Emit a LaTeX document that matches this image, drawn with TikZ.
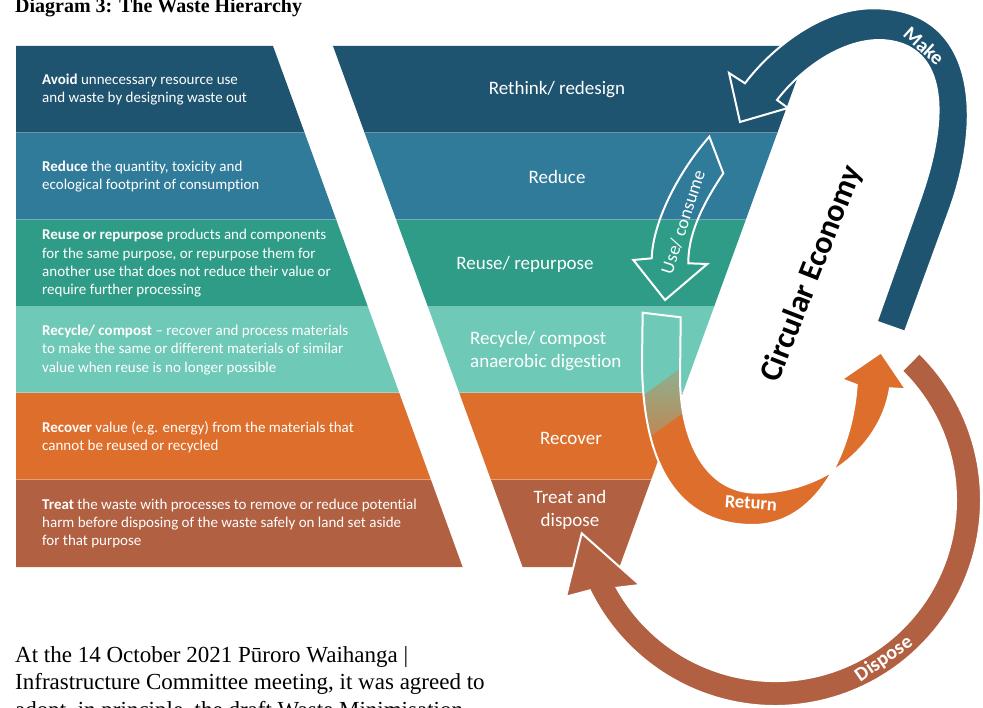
\documentclass[tikz,border=0pt]{standalone}
\usepackage{fontspec}
\setmainfont{Carlito}[Ligatures=NoCommon]
\newfontfamily\bodyserif{Liberation Serif}

\definecolor{bandA}{HTML}{1F5470}
\definecolor{bandB}{HTML}{317B9A}
\definecolor{bandC}{HTML}{2E9C87}
\definecolor{bandD}{HTML}{6FC9B7}
\definecolor{bandE}{HTML}{DE6E2C}
\definecolor{bandF}{HTML}{B16042}

% outlines of the three circular-economy arrows
\newcommand\makeoutline{(905,331.7) -- (948.3,213.3) .. controls (985,115) and (975,8) .. (873.3,8.3)
  .. controls (820,8) and (770,50) .. (745,83.3) -- (729,73) -- (740,122) -- (788,108) -- (777,100)
  .. controls (800,70) and (840,40) .. (880,40) .. controls (945,42) and (952,110) .. (920,200)
  -- (876.7,321.7) -- cycle}
\newcommand\returnoutline{(642.7,312.7) -- (642,360) .. controls (642,475) and (685,525) .. (753,525)
  .. controls (815,525) and (852,455) .. (856.7,385) -- (841.7,379.3) -- (881,352.3) -- (906,389.3)
  -- (890,388.3) .. controls (880,450) and (820,492.7) .. (757,492.7)
  .. controls (705,492.7) and (681,440) .. (680,380) -- (680.7,317.3) -- cycle}
\newcommand\disposeoutline{(919.4,353.1) arc[start angle=-45.5, end angle=154, radius=206]
  -- (566,596.7) -- (581.7,533.3) -- (640,585) -- (616.7,587.8)
  arc[start angle=151, end angle=-45.5, radius=181] -- cycle}

\begin{document}
\begin{tikzpicture}[x=1pt,y=-1pt,
  lefttext/.style={anchor=west, align=left, text=white, inner sep=0pt,
    font=\fontsize{15}{18.3}\selectfont},
  bandlabel/.style={align=center, text=white, inner sep=0pt,
    font=\fontsize{19}{22.5}\selectfont},
  seam/.style={white, opacity=0.35, line width=1},
  arrowout/.style={draw=white, line width=2, line join=miter},
  arrowlabel/.style={text=white, inner sep=0pt, font=\fontsize{20}{24}\selectfont\bfseries}]

\clip (0,0) rectangle (983,708);
\fill[white] (0,0) rectangle (983,708);

% left panel rows
\fill[bandA] (16,46) -- (273,46) -- (304.7,133) -- (16,133) -- cycle;
\fill[bandB] (16,133) -- (304.7,133) -- (336.3,220) -- (16,220) -- cycle;
\fill[bandC] (16,220) -- (336.3,220) -- (368,307) -- (16,307) -- cycle;
\fill[bandD] (16,307) -- (368,307) -- (399.3,393) -- (16,393) -- cycle;
\fill[bandE] (16,393) -- (399.3,393) -- (431,480) -- (16,480) -- cycle;
\fill[bandF] (16,480) -- (431,480) -- (462.6,567) -- (16,567) -- cycle;

% funnel rows
\fill[bandA] (333,46) -- (809,46) -- (777.3,133) -- (364.7,133) -- cycle;
\fill[bandB] (364.7,133) -- (777.3,133) -- (745.7,220) -- (396.3,220) -- cycle;
\fill[bandC] (396.3,220) -- (745.7,220) -- (714,307) -- (428,307) -- cycle;
\fill[bandD] (428,307) -- (714,307) -- (682.7,393) -- (459.3,393) -- cycle;
\fill[bandE] (459.3,393) -- (682.7,393) -- (651,480) -- (491,480) -- cycle;
\fill[bandF] (491,480) -- (651,480) -- (619.4,567) -- (522.6,567) -- cycle;

% seams between rows
\foreach \yy/\lx/\fl/\fr in {133/304.7/364.7/777.3, 220/336.3/396.3/745.7, 307/368/428/714,
                            393/399.3/459.3/682.7, 480/431/491/651}
  {\draw[seam] (16,\yy) -- (\lx,\yy); \draw[seam] (\fl,\yy) -- (\fr,\yy);}

% descriptions
\node[lefttext] (avoid) at (42,89.5) {\textbf{Avoid} unnecessary resource use\\and waste by designing waste out};
\node[lefttext] (reduce) at (42,176.5) {\textbf{Reduce} the quantity, toxicity and\\ecological footprint of consumption};
\node[lefttext] (reuse) at (42,263.5) {\textbf{Reuse or repurpose} products and components\\for the same purpose, or repurpose them for\\another use that does not reduce their value or\\require further processing};
\node[lefttext] (recycle) at (42,350) {\textbf{Recycle/ compost} – recover and process materials\\to make the same or different materials of similar\\value when reuse is no longer possible};
\node[lefttext] (recover) at (42,437) {\textbf{Recover} value (e.g. energy) from the materials that\\cannot be reused or recycled};
\node[lefttext] (treat) at (42,523.5) {\textbf{Treat} the waste with processes to remove or reduce potential\\harm before disposing of the waste safely on land set aside\\for that purpose};

% funnel labels
\node[bandlabel] (lRethink) at (557,90) {Rethink/ redesign};
\node[bandlabel] (lReduce) at (557,177) {Reduce};
\node[bandlabel] (lReuse) at (525,264) {Reuse/ repurpose};
\node[bandlabel, anchor=west, align=left] (lRecycle) at (470,351) {Recycle/ compost\\anaerobic digestion};
\node[bandlabel] (lRecover) at (571,438) {Recover};
\node[bandlabel] (lTreat) at (570,510) {Treat and\\dispose};

% use / consume arrow (outline only)
\draw[arrowout] (709.3,136.7) -- (723.3,173.3) .. controls (702,205) and (688,235) .. (688.3,263.3)
  -- (707.3,264) -- (665,300) -- (633.3,260) -- (651.7,258.3)
  .. controls (653,220) and (680,170) .. (709.3,136.7) -- cycle;
\node[text=white, inner sep=0pt, rotate=72, font=\fontsize{18.5}{22}\selectfont] (use) at (683,222) {Use/ consume};

% return arrow with its teal-to-orange tail
\fill[bandE] \returnoutline;
\begin{scope}
  \clip \returnoutline;
  \begin{scope}[rotate around={36:(665,405)}]
    \fill[bandD] (560,200) rectangle (770,385);
    \shade[top color=bandD, bottom color=bandE] (560,384.5) rectangle (770,422);
  \end{scope}
\end{scope}
\draw[arrowout] \returnoutline;

% make arrow
\fill[bandA] \makeoutline;
\draw[arrowout] \makeoutline;

% dispose arrow
\fill[bandF] \disposeoutline;
\draw[arrowout] \disposeoutline;

% arrow labels
\node[arrowlabel, rotate=-42] (make) at (924,46) {Make};
\node[arrowlabel, rotate=-4, font=\fontsize{18.5}{22}\selectfont\bfseries] (return) at (751,503) {Return};
\node[arrowlabel, rotate=35] (dispose) at (884,659) {Dispose};
\node[inner sep=0pt, rotate=68.6, font=\fontsize{32}{38}\selectfont\bfseries] (ce) at (812,274) {Circular Economy};

% heading and body text
\node[anchor=base west, inner sep=0pt, font=\bodyserif\bfseries\fontsize{20}{24}\selectfont] (title) at (15,13) {Diagram 3: The Waste Hierarchy};
\node[anchor=north west, inner sep=0pt, align=left, font=\bodyserif\fontsize{23}{27.5}\selectfont] (para) at (15,646)
  {At the 14 October 2021 Pūroro Waihanga |\\Infrastructure Committee meeting, it was agreed to\\adopt, in principle, the draft Waste Minimisation};
\end{tikzpicture}
\end{document}
